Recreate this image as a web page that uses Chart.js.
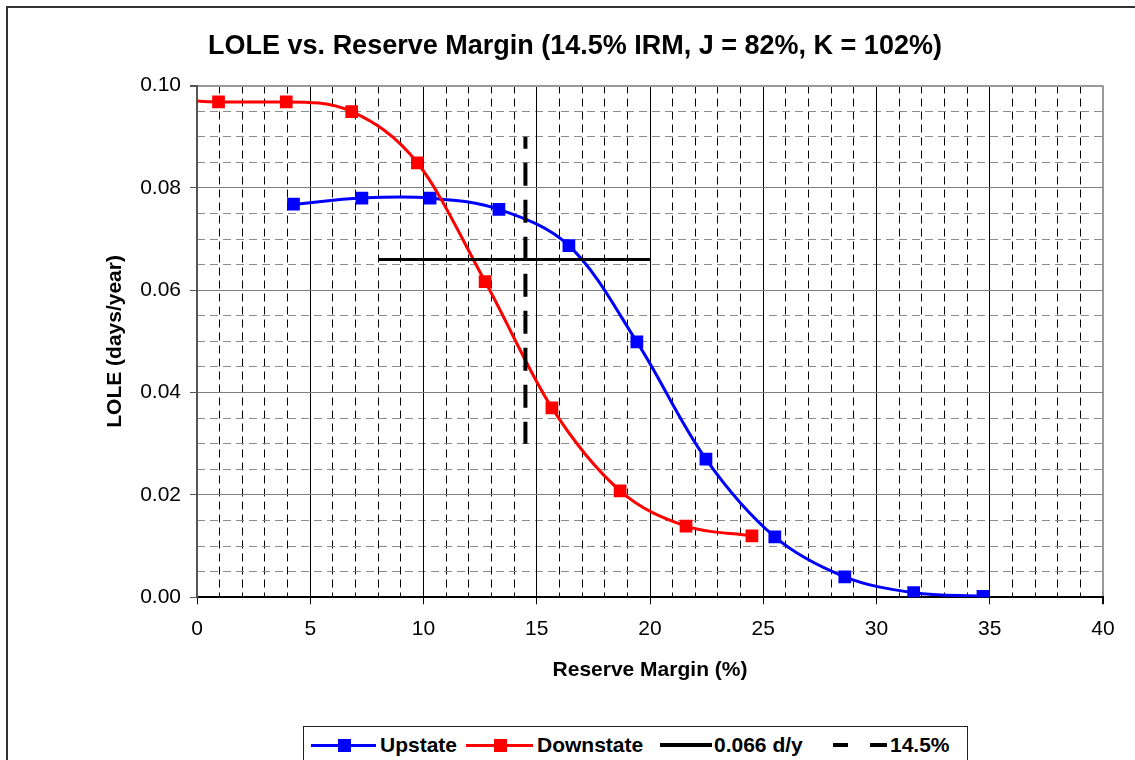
<!DOCTYPE html>
<html><head><meta charset="utf-8">
<script src="https://cdn.jsdelivr.net/npm/chart.js@4.4.1/dist/chart.umd.min.js"></script>
<style>
html,body{margin:0;padding:0;background:#fff;overflow:hidden;width:1135px;height:760px;}
#wrap{position:relative;width:1135px;height:760px;overflow:hidden;}
#frame{position:absolute;left:6px;top:6px;width:2000px;height:2000px;border-left:2px solid #333;border-top:2px solid #333;}
canvas{position:absolute;left:0;top:0;}
#legend{position:absolute;left:303px;top:726px;width:665px;height:60px;border:1.5px solid #222;box-sizing:border-box;background:#fff;}
.lg{position:absolute;font:bold 21px 'Liberation Sans',Arial,sans-serif;line-height:24px;top:6px;color:#000;white-space:nowrap}
.ln{position:absolute;height:3px;top:16.5px}
.mk{position:absolute;width:13px;height:13px;top:11.5px}
</style>
</head>
<body>
<div id="wrap">
<div id="frame"></div>
<canvas id="c" width="1135" height="760"></canvas>
<div id="legend">
  <div class="ln" style="left:7px;width:65px;background:#0000ff"></div>
  <div class="mk" style="left:34px;background:#0000ff"></div>
  <div class="lg" style="left:76px">Upstate</div>
  <div class="ln" style="left:162px;width:67px;background:#ff0000"></div>
  <div class="mk" style="left:190px;background:#ff0000"></div>
  <div class="lg" style="left:233px">Downstate</div>
  <div class="ln" style="left:356px;width:52px;height:4px;top:16px;background:#000"></div>
  <div class="lg" style="left:410px">0.066 d/y</div>
  <div class="ln" style="left:529px;width:15px;height:4px;top:16px;background:#000"></div>
  <div class="ln" style="left:566px;width:17px;height:4px;top:16px;background:#000"></div>
  <div class="lg" style="left:586px">14.5%</div>
</div>
</div>
<script>
// ---- data ----
const chartTitle = 'LOLE vs. Reserve Margin (14.5% IRM, J = 82%, K = 102%)';
const xAxisTitle = 'Reserve Margin (%)';
const yAxisTitle = 'LOLE (days/year)';

const upstateX = [4.26, 7.28, 10.29, 13.33, 16.42, 19.42, 22.47, 25.51, 28.60, 31.64, 34.70];
const upstateY = [0.0768, 0.0780, 0.0780, 0.0758, 0.0687, 0.0499, 0.0270, 0.0118, 0.0040, 0.0009, 0.0002];

const downstateX = [-2.10, 0.95, 3.94, 6.83, 9.73, 12.72, 15.67, 18.68, 21.59, 24.50];
const downstateY = [0.0978, 0.0968, 0.0968, 0.0949, 0.0849, 0.0617, 0.0370, 0.0208, 0.0139, 0.0120];

const criterionX = [8, 20];
const criterionY = [0.066, 0.066];

const irmX = [14.5, 14.5];
const irmY = [0.09, 0.03];

const xMin = 0, xMax = 40, xMajorStep = 5, xMinorStep = 1;
const yMin = 0, yMax = 0.10, yMajorStep = 0.02, yMinorStep = 0.005;

// ---- chart ----
const FONT = "'Liberation Sans', Arial, sans-serif";
Chart.defaults.font.family = FONT;
Chart.defaults.color = '#000';

function pts(xs, ys) { return xs.map((x, i) => ({ x: x, y: ys[i] })); }

new Chart(document.getElementById('c'), {
  type: 'line',
  data: {
    datasets: [
      {
        label: 'Upstate', data: pts(upstateX, upstateY),
        borderColor: '#0000ff', backgroundColor: '#0000ff', borderWidth: 3,
        pointStyle: 'rect', pointRadius: 9, pointBorderWidth: 0, pointHoverRadius: 9,
        tension: 0.35, fill: false, order: 4
      },
      {
        label: 'Downstate', data: pts(downstateX, downstateY),
        borderColor: '#ff0000', backgroundColor: '#ff0000', borderWidth: 3,
        pointStyle: 'rect', pointRadius: downstateX.map(x => x < xMin ? 0 : 9), pointBorderWidth: 0,
        cubicInterpolationMode: 'monotone', fill: false, order: 3
      },
      {
        label: '0.066 d/y', data: pts(criterionX, criterionY),
        borderColor: '#000', borderWidth: 3, pointRadius: 0, tension: 0, fill: false, order: 2
      },
      {
        label: '14.5%', data: pts(irmX, irmY),
        borderColor: '#000', borderWidth: 4, borderDash: [23, 14], borderDashOffset: 11,
        pointRadius: 0, tension: 0, fill: false, order: 1
      }
    ]
  },
  options: {
    responsive: false, animation: false, devicePixelRatio: 1,
    layout: { padding: { left: 47, right: 32, top: 0, bottom: 62.7 } },
    plugins: {
      legend: { display: false },
      tooltip: { enabled: false },
      title: {
        display: true, text: chartTitle, color: '#000',
        font: { size: 27, weight: 'bold', family: FONT },
        padding: { top: 30.8, bottom: 22.3 }
      }
    },
    scales: {
      xMinor: {
        type: 'linear', position: 'bottom', min: xMin, max: xMax,
        ticks: { display: false, stepSize: xMinorStep, autoSkip: false },
        grid: { drawTicks: false, color: c => (c.index % 5 === 0) ? 'rgba(0,0,0,0)' : '#000', lineWidth: 1 },
        border: { display: false, dash: [8, 5] },
        afterFit: s => { s.height = 0; }
      },
      yMinor: {
        type: 'linear', position: 'left', min: yMin, max: yMax,
        ticks: { display: false, stepSize: yMinorStep, autoSkip: false },
        grid: { drawTicks: false, color: c => (c.index % 4 === 0) ? 'rgba(0,0,0,0)' : '#8c8c8c', lineWidth: 1 },
        border: { display: false, dash: [8, 5] },
        afterFit: s => { s.width = 0; }
      },
      x: {
        type: 'linear', position: 'bottom', min: xMin, max: xMax,
        ticks: { stepSize: xMajorStep, font: { size: 21 }, color: '#000', padding: 12, maxRotation: 0, autoSkip: false },
        grid: {
          color: c => (c.tick && c.tick.value === xMax) ? '#999' : '#000',
          lineWidth: c => (c.tick && c.tick.value === xMax) ? 2 : 1,
          tickLength: 7, tickColor: '#000'
        },
        border: { color: '#000', width: 2 },
        title: { display: true, text: xAxisTitle, color: '#000', font: { size: 21, weight: 'bold' }, padding: { bottom: 14 } },
        afterFit: s => { s.height = 100; }
      },
      y: {
        type: 'linear', position: 'left', min: yMin, max: yMax,
        ticks: { stepSize: yMajorStep, callback: v => Number(v).toFixed(2), font: { size: 21 }, color: '#000', padding: 9, autoSkip: false },
        grid: {
          color: c => (c.tick && Math.abs(c.tick.value - yMax) < 1e-9) ? '#999' : '#7f7f7f',
          lineWidth: c => (c.tick && Math.abs(c.tick.value - yMax) < 1e-9) ? 2 : 1,
          tickLength: 7, tickColor: '#555'
        },
        border: { color: '#555', width: 2 },
        title: { display: true, text: yAxisTitle, color: '#000', font: { size: 21, weight: 'bold' }, padding: { top: 55.4 } },
        afterFit: s => { s.width = 150; }
      }
    }
  }
});
</script>
</body></html>
